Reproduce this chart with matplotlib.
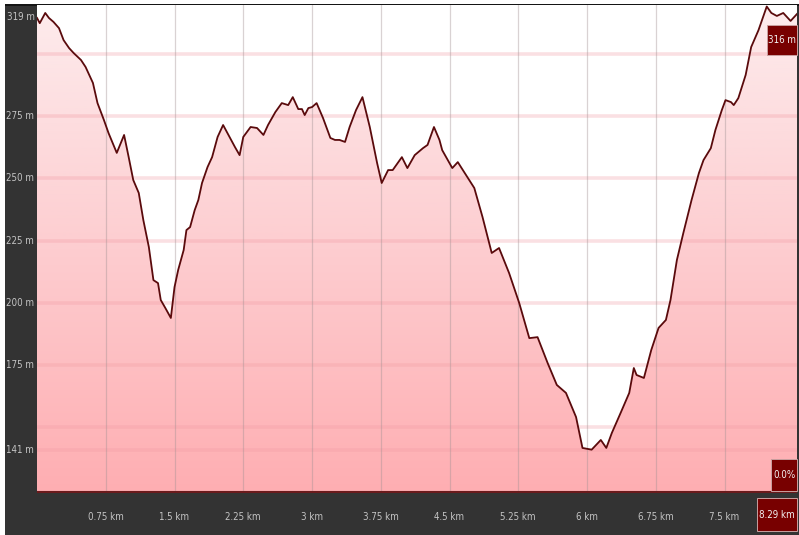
import numpy as np
import matplotlib
matplotlib.use('Agg')
import matplotlib.pyplot as plt
from matplotlib import font_manager
from matplotlib.patches import Rectangle
from matplotlib.colors import LinearSegmentedColormap

# profil altimétrique (distance en km, altitude en m)
dist_km = [0.00, 0.03, 0.09, 0.13, 0.18, 0.24, 0.29, 0.35, 0.40, 0.48, 0.53, 0.61, 0.66, 0.73,
           0.78, 0.87, 0.95, 1.00, 1.05, 1.11, 1.16, 1.22, 1.27, 1.32, 1.35, 1.40, 1.46, 1.50,
           1.54, 1.60, 1.63, 1.67, 1.72, 1.76, 1.80, 1.86, 1.91, 1.97, 2.03, 2.10, 2.16, 2.21,
           2.25, 2.33, 2.40, 2.47, 2.52, 2.60, 2.67, 2.74, 2.79, 2.85, 2.89, 2.92, 2.96, 3.00,
           3.05, 3.12, 3.20, 3.25, 3.30, 3.36, 3.41, 3.48, 3.55, 3.63, 3.71, 3.76, 3.83, 3.88,
           3.98, 4.04, 4.12, 4.21, 4.26, 4.33, 4.39, 4.42, 4.53, 4.59, 4.68, 4.77, 4.86, 4.96,
           5.04, 5.15, 5.26, 5.37, 5.46, 5.57, 5.67, 5.77, 5.88, 5.95, 6.05, 6.15, 6.21, 6.27,
           6.37, 6.46, 6.51, 6.54, 6.62, 6.70, 6.78, 6.86, 6.91, 6.98, 7.05, 7.14, 7.22, 7.27,
           7.35, 7.40, 7.47, 7.51, 7.57, 7.60, 7.65, 7.73, 7.79, 7.87, 7.96, 8.01, 8.07, 8.14,
           8.22, 8.29]
alt_m = [314.4, 312.3, 316.4, 314.4, 312.8, 310.3, 305.5, 302.3, 300.3, 297.5, 294.7, 288.3, 280.2, 273.4,
         268.2, 260.2, 267.4, 258.5, 249.3, 244.1, 233.2, 222.4, 209.1, 207.9, 201.1, 197.9, 193.9, 206.3,
         213.2, 221.2, 229.2, 230.4, 237.2, 241.3, 248.1, 254.5, 258.5, 266.6, 271.4, 266.6, 262.5, 259.3,
         266.6, 270.6, 270.2, 267.4, 271.4, 276.6, 280.2, 279.4, 282.6, 277.8, 277.8, 275.4, 278.2, 278.6,
         280.2, 274.2, 266.2, 265.4, 265.4, 264.6, 270.6, 277.4, 282.6, 270.6, 256.1, 248.1, 253.3, 253.3,
         258.5, 254.1, 259.3, 262.1, 263.4, 270.6, 265.4, 261.3, 254.1, 256.5, 251.3, 246.1, 234.4, 220.0,
         222.0, 211.9, 199.9, 185.8, 186.2, 175.8, 167.0, 163.8, 154.1, 141.7, 141.0, 144.9, 141.7, 147.7,
         156.1, 163.8, 173.8, 171.0, 169.8, 181.0, 189.9, 193.1, 201.1, 217.2, 228.0, 241.3, 252.1, 257.3,
         262.1, 269.4, 277.4, 281.4, 280.6, 279.4, 282.2, 291.5, 302.7, 309.5, 319.0, 316.4, 315.2, 316.4,
         313.2, 316.0]

x_ticks = [0.75, 1.5, 2.25, 3, 3.75, 4.5, 5.25, 6, 6.75, 7.5]
x_labels = ['0.75 km', '1.5 km', '2.25 km', '3 km', '3.75 km', '4.5 km', '5.25 km', '6 km', '6.75 km', '7.5 km']
y_grid = [300, 275, 250, 225, 200, 175, 150, 141]
y_labels = {319: '319 m', 275: '275 m', 250: '250 m', 225: '225 m', 200: '200 m', 175: '175 m', 141: '141 m'}
total_km = '8.29 km'
end_alt = '316 m'
pente = '0.0%'

# police étroite si disponible
noms = {f.name for f in font_manager.fontManager.ttflist}
if 'Liberation Sans Narrow' in noms:
    plt.rcParams['font.family'] = ['Liberation Sans Narrow', 'DejaVu Sans']
    fs = 7.5
else:
    plt.rcParams['font.family'] = ['DejaVu Sans']
    plt.rcParams['font.stretch'] = 'condensed'
    fs = 7

fig = plt.figure(figsize=(7.99, 5.35), dpi=100)
fig.patch.set_facecolor('white')
# cadre sombre
fig.patches.append(Rectangle((5 / 799, 0), 1, 531 / 535, transform=fig.transFigure,
                             facecolor='#333333', edgecolor='none', zorder=-5))
fig.patches.append(Rectangle((5 / 799, 529 / 535), 1, 2 / 535, transform=fig.transFigure,
                             facecolor='#151515', edgecolor='none', zorder=-4))

ax = fig.add_axes([37 / 799, 42 / 535, 760 / 799, 488 / 535])
ymin, ymax = 123.6, 319.6
ax.set_xlim(0, 8.29)
ax.set_ylim(ymin, ymax)
ax.set_facecolor('white')

# remplissage en dégradé sous la courbe
cmap = LinearSegmentedColormap.from_list('rose', ['#ffaeb2', '#fdcdd0', '#fdeced'])
grad = np.linspace(0, 1, 256).reshape(-1, 1)
img = ax.imshow(grad, cmap=cmap, origin='lower', aspect='auto',
                extent=[0, 8.29, ymin, ymax], zorder=1)
poly = ax.fill_between(dist_km, alt_m, ymin, facecolor='none', edgecolor='none')
img.set_clip_path(poly.get_paths()[0], transform=ax.transData)

# grilles
for v in y_grid:
    ax.axhline(v, color='#f19aa3', alpha=0.3, lw=2.6, zorder=2)
for t in x_ticks:
    ax.axvline(t, color='#a09092', alpha=0.4, lw=0.9, zorder=2)

ax.plot(dist_km, alt_m, color='#5a0a0c', lw=1.3, zorder=3)
ax.axhline(ymin + 0.3, color='#6a1a1c', lw=1.5, zorder=4)

for s in ax.spines.values():
    s.set_visible(False)
ax.set_xticks([])
ax.set_yticks([])

# étiquettes axe y
for v, lab in y_labels.items():
    if v == 319:
        ax.text(-0.003, 1 - 7 / 488, lab, transform=ax.transAxes, ha='right', va='top',
                color='#c4c4c4', fontsize=fs)
    else:
        ax.annotate(lab, xy=(0, v), xycoords=('axes fraction', 'data'), xytext=(-2.2, 0),
                    textcoords='offset points', ha='right', va='center', color='#c4c4c4', fontsize=fs)

# étiquettes axe x
for t, lab in zip(x_ticks, x_labels):
    ax.annotate(lab, xy=(t, 0), xycoords=('data', 'axes fraction'), xytext=(0, -17),
                textcoords='offset points', ha='center', va='center', color='#c4c4c4', fontsize=fs)

# étiquettes en encadré rouge à droite (x0, y0, x1, y1 en pixels)
for lab, (x0, y0, x1, y1) in [(end_alt, (767, 25, 797, 55)),
                              (pente, (771, 459, 797, 491)),
                              (total_km, (757, 498, 797, 531))]:
    fig.patches.append(Rectangle((x0 / 799, 1 - y1 / 535), (x1 - x0) / 799, (y1 - y0) / 535,
                                 transform=fig.transFigure, facecolor='#780000',
                                 edgecolor='#c9a0a0', lw=0.7, zorder=5))
    fig.text((x0 + x1) / 2 / 799, 1 - (y0 + y1) / 2 / 535, lab, ha='center', va='center',
             color='#f2f2f2', fontsize=fs, zorder=6)

fig.savefig('out.png', dpi=100)
